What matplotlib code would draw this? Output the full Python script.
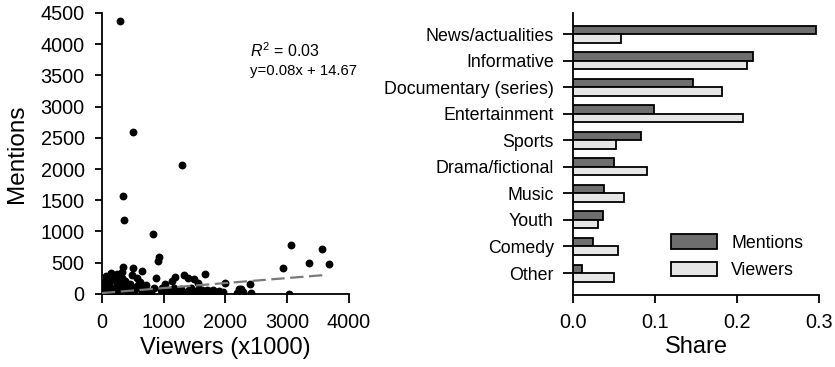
import numpy as np
import matplotlib.pyplot as plt

plt.rcParams['font.family'] = ['Liberation Sans', 'DejaVu Sans']
plt.rcParams['mathtext.fontset'] = 'custom'
plt.rcParams['mathtext.rm'] = 'Liberation Sans'
plt.rcParams['mathtext.it'] = 'Liberation Sans:italic'

# scatter: viewers (x1000) vs mentions
viewers = [300, 510, 1300, 345, 355, 830, 925, 905, 3058, 3555, 3355, 3678, 2930, 3035, 2390, 2410,
           1985, 1667, 1330, 1390, 1180, 1135, 1495, 1025, 875, 845, 510, 335, 645, 140,
           60, 195, 275, 330, 480, 570, 625, 5, 113, 356, 437, 222, 707, 545, 20, 90,
           160, 250, 400, 600, 60, 194, 490, 652, 300, 380, 170, 40, 700, 760,
           1170, 1278, 1413, 1521, 1655, 1791, 1953, 2222, 2250, 2277, 1764, 1117, 1359, 1548,
           1170, 1230, 1450, 1600, 1700, 1850, 950, 1050, 2180, 800, 980, 1380, 1580, 1900,
           100, 230, 430, 520, 650, 150, 280, 350, 460, 580, 30, 10, 1020, 1240,
           1300, 1480, 1680, 1740, 1100, 1620, 1820, 70, 250, 330]
mentions = [4370, 2600, 2070, 1570, 1180, 955, 598, 529, 785, 720, 495, 485, 420, 5, 160, 10,
            181, 320, 310, 262, 272, 200, 235, 158, 261, 91, 412, 435, 365, 331,
            224, 224, 285, 358, 304, 251, 187, 171, 144, 171, 144, 117, 144, 117, 130, 200,
            260, 180, 90, 100, 64, 64, 75, 75, 120, 210, 40, 60, 40, 30,
            91, 75, 64, 48, 37, 64, 37, 75, 85, 37, 11, 37, 21, 171,
            20, 40, 100, 20, 60, 30, 60, 20, 20, 15, 100, 30, 80, 40,
            40, 90, 30, 40, 20, 20, 30, 60, 160, 150, 110, 60, 70, 10,
            45, 50, 30, 50, 60, 70, 15, 280, 320, 250]

slope = 0.08
intercept = 14.67
fit_xmax = 3650

# bar chart: share per genre
genres = ['News/actualities', 'Informative', 'Documentary (series)', 'Entertainment', 'Sports',
          'Drama/fictional', 'Music', 'Youth', 'Comedy', 'Other']
share_mentions = [0.296, 0.219, 0.146, 0.099, 0.083, 0.050, 0.038, 0.037, 0.025, 0.011]
share_viewers = [0.059, 0.212, 0.182, 0.207, 0.053, 0.090, 0.062, 0.031, 0.055, 0.050]

fig = plt.figure(figsize=(8.35, 3.67), dpi=100)

# left panel
ax1 = fig.add_axes([0.122, 0.199, 0.296, 0.766])
ax1.scatter(viewers, mentions, s=32, color='black', zorder=2, linewidths=0)
fx = np.array([0, fit_xmax])
ax1.plot(fx, slope * fx + intercept, color='#7a7a7a', lw=1.6, dashes=(6, 2.5), zorder=3)
ax1.set_xlim(0, 4000)
ax1.set_ylim(0, 4500)
ax1.set_xticks([0, 1000, 2000, 3000, 4000])
ax1.set_yticks(range(0, 4501, 500))
ax1.set_xlabel('Viewers (x1000)', fontsize=17, labelpad=3)
ax1.set_ylabel('Mentions', fontsize=17.5, labelpad=9)
ax1.text(0.6, 0.842, r'$R^2$ = 0.03', transform=ax1.transAxes, fontsize=11.5, va='baseline')
ax1.text(0.6, 0.78, 'y=0.08x + 14.67', transform=ax1.transAxes, fontsize=10.7, va='baseline')

# right panel
ax2 = fig.add_axes([0.686, 0.196, 0.295, 0.769])
pos = np.arange(len(genres))[::-1]
h = 0.32
ax2.barh(pos + h / 2, share_mentions, height=h, color='#6e6e6e', edgecolor='black',
         linewidth=1.3, label='Mentions')
ax2.barh(pos - h / 2, share_viewers, height=h, color='#e6e6e6', edgecolor='black',
         linewidth=1.3, label='Viewers')
ax2.set_yticks(pos)
ax2.set_yticklabels(genres)
ax2.set_ylim(-0.83, 9.8)
ax2.set_xlim(0, 0.3)
ax2.set_xticks([0, 0.1, 0.2, 0.3])
ax2.set_xticklabels(['0.0', '0.1', '0.2', '0.3'])
ax2.set_xlabel('Share', fontsize=17, labelpad=3)
ax2.legend(loc='lower right', bbox_to_anchor=(1.0, 0.0), frameon=False, fontsize=12.8,
           handlelength=2.6, handleheight=0.9, labelspacing=0.55, handletextpad=0.8)

for ax in (ax1, ax2):
    ax.spines['top'].set_visible(False)
    ax.spines['right'].set_visible(False)
    for s in ('left', 'bottom'):
        ax.spines[s].set_linewidth(1.3)
    ax.tick_params(width=1.3, labelsize=14.3)
ax1.tick_params(axis='x', length=6.5, pad=7.5)
ax1.tick_params(axis='y', length=5, pad=7.5)
ax2.tick_params(axis='x', length=6, pad=7)
ax2.tick_params(axis='y', length=7.2, pad=6.5, labelsize=12.8)

fig.savefig('out.png', dpi=100)
